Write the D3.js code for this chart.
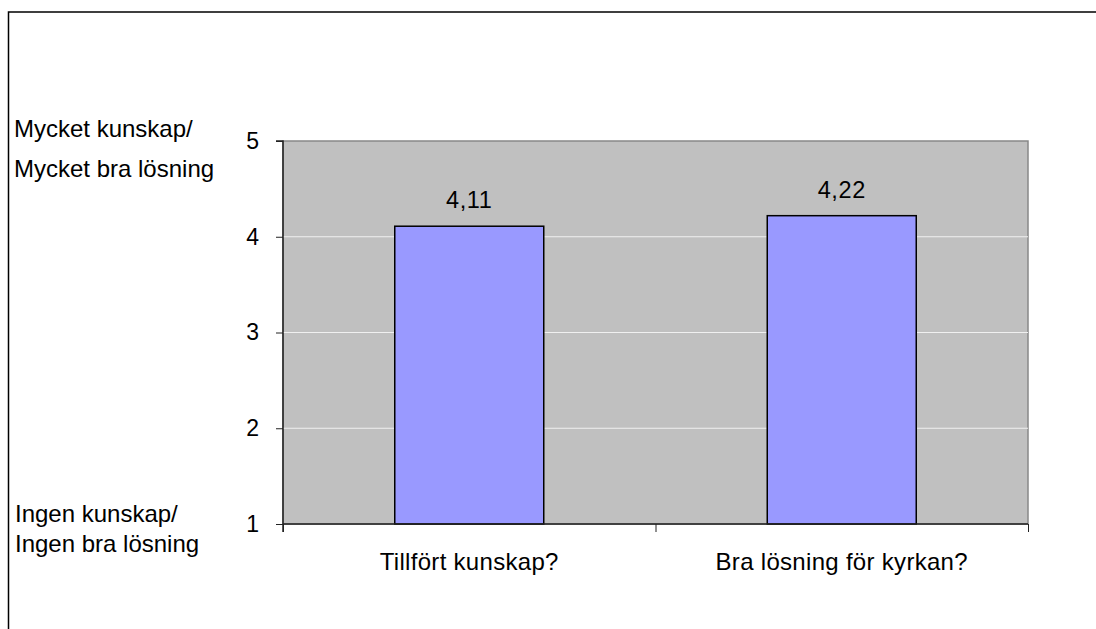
<!DOCTYPE html>
<html><head><meta charset="utf-8">
<script src="https://cdn.jsdelivr.net/npm/d3@7"></script>
<style>html,body{margin:0;padding:0;background:#fff;}svg{display:block;}</style>
</head><body>
<svg id="chart" width="1096" height="629"></svg>
<script>
const categories = ["Tillfört kunskap?", "Bra lösning för kyrkan?"];
const values = [4.11, 4.22];
const valueLabels = ["4,11", "4,22"];
const yTicks = [1, 2, 3, 4, 5];
const topLabel = ["Mycket kunskap/", "Mycket bra lösning"];
const bottomLabel = ["Ingen kunskap/", "Ingen bra lösning"];

const svg = d3.select("#chart");
const font = "Arial, 'Liberation Sans', sans-serif";
const m = {left: 283, right: 1028, top: 141, bottom: 524};

// outer frame
svg.append("rect").attr("x", 8.5).attr("y", 12).attr("width", 1100).attr("height", 700)
  .attr("fill", "#fff").attr("stroke", "#000").attr("stroke-width", 1.5);

const x = d3.scaleBand().domain(categories).range([m.left, m.right]).paddingInner(0.6).paddingOuter(0.3);
const y = d3.scaleLinear().domain([1, 5]).range([m.bottom, m.top]);

// plot area
svg.append("rect").attr("x", m.left).attr("y", m.top).attr("width", m.right - m.left).attr("height", m.bottom - m.top)
  .attr("fill", "#c0c0c0").attr("stroke", "#888").attr("stroke-width", 1.5);

// gridlines
svg.append("g").selectAll("line").data(yTicks.filter(d => d > 1 && d < 5)).join("line")
  .attr("x1", m.left).attr("x2", m.right).attr("y1", d => y(d)).attr("y2", d => y(d))
  .attr("stroke", "#f0f0f0").attr("stroke-width", 1);

// bars
svg.append("g").selectAll("rect").data(values).join("rect")
  .attr("x", (d, i) => x(categories[i])).attr("width", x.bandwidth())
  .attr("y", d => y(d)).attr("height", d => y(1) - y(d))
  .attr("fill", "#9999ff").attr("stroke", "#000").attr("stroke-width", 1.5);

// value labels
svg.append("g").selectAll("text").data(values).join("text")
  .attr("x", (d, i) => x(categories[i]) + x.bandwidth() / 2).attr("y", d => y(d) - 18)
  .attr("text-anchor", "middle").attr("font-family", font).attr("font-size", 23.5)
  .attr("letter-spacing", 0.6).attr("fill", "#000")
  .text((d, i) => valueLabels[i]);

// y axis
const yAxis = d3.axisLeft(y).tickValues(yTicks).tickSize(7).tickPadding(17).tickFormat(d3.format("d"));
const gy = svg.append("g").attr("transform", `translate(${m.left},0)`).call(yAxis);
gy.attr("font-size", null).attr("font-family", null);
gy.select(".domain").attr("stroke", "#222").attr("stroke-width", 1.5).attr("d", `M-7,${m.top}H0V${m.bottom + 8}`);
gy.selectAll(".tick line").attr("stroke", "#222").attr("stroke-width", 1);
gy.selectAll(".tick text").attr("font-family", font).attr("font-size", 23).attr("fill", "#000");

// x axis
const xb = d3.scaleLinear().domain([0, categories.length]).range([m.left, m.right]);
const xAxis = d3.axisBottom(xb).tickValues(d3.range(categories.length + 1)).tickSize(8).tickFormat("");
const gx = svg.append("g").attr("transform", `translate(0,${m.bottom})`).call(xAxis);
gx.select(".domain").attr("stroke", "#222").attr("stroke-width", 1.5).attr("d", `M${m.left},0H${m.right}`);
gx.selectAll(".tick line").attr("stroke", "#222").attr("stroke-width", 1);

svg.append("g").selectAll("text").data(categories).join("text")
  .attr("x", d => x(d) + x.bandwidth() / 2).attr("y", 570)
  .attr("text-anchor", "middle").attr("font-family", font).attr("font-size", 24)
  .attr("letter-spacing", 0.3).attr("fill", "#000")
  .text(d => d);

// side labels
svg.append("g").selectAll("text").data(topLabel).join("text")
  .attr("x", 14).attr("y", (d, i) => 137 + i * 40)
  .attr("font-family", font).attr("font-size", 24).attr("fill", "#000").text(d => d);
svg.append("g").selectAll("text").data(bottomLabel).join("text")
  .attr("x", 15).attr("y", (d, i) => 522 + i * 30)
  .attr("font-family", font).attr("font-size", 24).attr("fill", "#000").text(d => d);
</script>
</body></html>
